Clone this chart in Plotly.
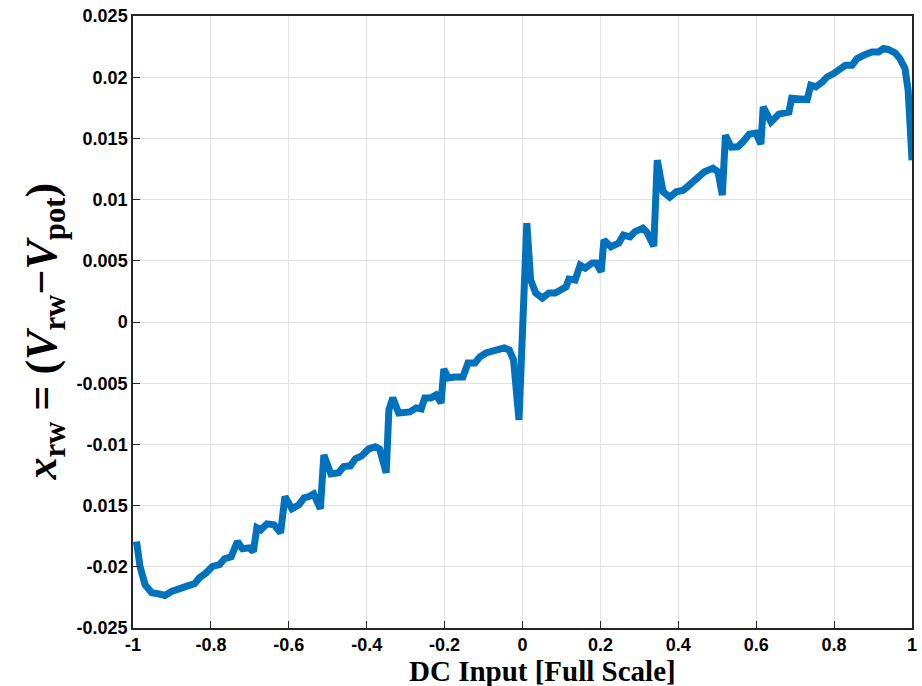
import plotly.graph_objects as go

# DC input (full scale)
dc_input = [
    -0.991, -0.982, -0.969, -0.952, -0.936, -0.918, -0.901, -0.885, -0.863, -0.842,
    -0.829, -0.812, -0.796, -0.778, -0.765, -0.748, -0.732, -0.719, -0.702, -0.691,
    -0.682, -0.672, -0.656, -0.638, -0.621, -0.610, -0.592, -0.574, -0.561, -0.548,
    -0.536, -0.519, -0.510, -0.492, -0.472, -0.459, -0.442, -0.429, -0.413, -0.395,
    -0.378, -0.367, -0.350, -0.343, -0.333, -0.318, -0.302, -0.289, -0.273, -0.260,
    -0.251, -0.235, -0.222, -0.209, -0.202, -0.191, -0.174, -0.153, -0.140, -0.122,
    -0.110, -0.094, -0.077, -0.059, -0.047, -0.034, -0.023, -0.009, 0.011, 0.021,
    0.034, 0.051, 0.068, 0.084, 0.102, 0.112, 0.119, 0.135, 0.148, 0.161,
    0.179, 0.189, 0.202, 0.209, 0.227, 0.247, 0.259, 0.276, 0.288, 0.309,
    0.319, 0.337, 0.346, 0.361, 0.378, 0.395, 0.413, 0.429, 0.446, 0.467,
    0.489, 0.502, 0.513, 0.521, 0.536, 0.553, 0.566, 0.582, 0.599, 0.612,
    0.618, 0.638, 0.658, 0.668, 0.684, 0.691, 0.714, 0.731, 0.740, 0.753,
    0.770, 0.782, 0.799, 0.812, 0.829, 0.846, 0.859, 0.876, 0.897, 0.914,
    0.927, 0.940, 0.957, 0.969, 0.982, 0.990, 0.994, 1.000,
]

# x_rw = V_rw - V_pot
x_rw = [
    -0.01793, -0.01997, -0.02147, -0.02212, -0.02220, -0.02234, -0.02201, -0.02179, -0.02160, -0.02138,
    -0.02089, -0.02049, -0.01997, -0.01983, -0.01934, -0.01918, -0.01793, -0.01853, -0.01845, -0.01875,
    -0.01681, -0.01698, -0.01649, -0.01657, -0.01722, -0.01426, -0.01526, -0.01494, -0.01437, -0.01426,
    -0.01404, -0.01526, -0.01086, -0.01241, -0.01232, -0.01181, -0.01175, -0.01118, -0.01094, -0.01037,
    -0.01020, -0.01037, -0.01232, -0.00718, -0.00620, -0.00743, -0.00743, -0.00735, -0.00702, -0.00710,
    -0.00620, -0.00620, -0.00596, -0.00661, -0.00384, -0.00457, -0.00449, -0.00449, -0.00335, -0.00335,
    -0.00286, -0.00253, -0.00237, -0.00220, -0.00212, -0.00229, -0.00310, -0.00800, 0.00808, 0.00343,
    0.00237, 0.00196, 0.00237, 0.00237, 0.00278, 0.00288, 0.00351, 0.00343, 0.00465, 0.00441,
    0.00482, 0.00482, 0.00411, 0.00669, 0.00615, 0.00645, 0.00710, 0.00696, 0.00737, 0.00767,
    0.00735, 0.00620, 0.01322, 0.01064, 0.01020, 0.01064, 0.01077, 0.01118, 0.01159, 0.01227,
    0.01257, 0.01227, 0.01037, 0.01526, 0.01428, 0.01431, 0.01472, 0.01534, 0.01543, 0.01453,
    0.01757, 0.01635, 0.01698, 0.01708, 0.01716, 0.01828, 0.01826, 0.01818, 0.01934, 0.01921,
    0.01961, 0.02002, 0.02030, 0.02057, 0.02098, 0.02098, 0.02152, 0.02179, 0.02206, 0.02206,
    0.02234, 0.02226, 0.02198, 0.02152, 0.02071, 0.01894, 0.01594, 0.01322,
]

x_tick_vals = [-1, -0.8, -0.6, -0.4, -0.2, 0, 0.2, 0.4, 0.6, 0.8, 1]
x_tick_text = ["-1", "-0.8", "-0.6", "-0.4", "-0.2", "0", "0.2", "0.4", "0.6", "0.8", "1"]
y_tick_vals = [0.025, 0.02, 0.015, 0.01, 0.005, 0, -0.005, -0.01, -0.015, -0.02, -0.025]
y_tick_text = ["0.025", "0.02", "0.015", "0.01", "0.005", "0", "-0.005", "-0.01", "0.015", "-0.02", "-0.025"]

x_title = "DC Input [Full Scale]"
y_title = ("<i>x</i><sub><b>rw</b></sub> = (<i>V</i><sub><b>rw</b></sub>"
           "\u2212<i>V</i><sub><b>pot</b></sub>)")

fig = go.Figure()
fig.add_trace(go.Scatter(
    x=dc_input, y=x_rw, mode="lines",
    line=dict(color="#0072BD", width=7),
    showlegend=False, hoverinfo="skip",
))

W, H = 922, 686
ml, mr, mt, mb = 133, 5, 16, 58
pw, ph = W - ml - mr, H - mt - mb

fig.update_layout(
    width=W, height=H,
    margin=dict(l=ml, r=mr, t=mt, b=mb, pad=0),
    paper_bgcolor="white", plot_bgcolor="white",
    font=dict(family="Liberation Sans, Arial, sans-serif", color="black"),
)

fig.update_xaxes(
    range=[-1, 1], tickvals=x_tick_vals, ticktext=x_tick_text,
    tickfont=dict(size=18, family="Liberation Sans Narrow, Liberation Sans, Arial", weight="bold"),
    showgrid=True, gridcolor="#e1e1e1", gridwidth=1,
    showline=True, linecolor="#262626", linewidth=1.5, mirror=True,
    ticks="inside", ticklen=7, tickcolor="#262626", tickwidth=1,
    zeroline=False,
)
fig.update_yaxes(
    range=[-0.025, 0.025], tickvals=y_tick_vals, ticktext=y_tick_text,
    tickfont=dict(size=18, family="Liberation Sans, Arial", weight="bold"),
    showgrid=True, gridcolor="#e1e1e1", gridwidth=1,
    showline=True, linecolor="#262626", linewidth=1.5, mirror=True,
    ticks="inside", ticklen=7, tickcolor="#262626", tickwidth=1,
    zeroline=False,
)

fig.add_annotation(
    text=x_title, xref="paper", yref="paper",
    x=(545 - ml) / pw, y=(H - mb - 671) / ph,
    xanchor="center", yanchor="middle", showarrow=False,
    font=dict(size=29, family="Liberation Serif, Times New Roman, serif", weight="bold", color="black"),
)
fig.add_annotation(
    text=y_title, xref="paper", yref="paper",
    x=(44 - ml) / pw, y=(H - mb - 332) / ph,
    xanchor="center", yanchor="middle", showarrow=False, textangle=-90,
    font=dict(size=44, family="Liberation Serif, Times New Roman, serif", weight="bold", color="black"),
)

fig.write_html("out.html")
